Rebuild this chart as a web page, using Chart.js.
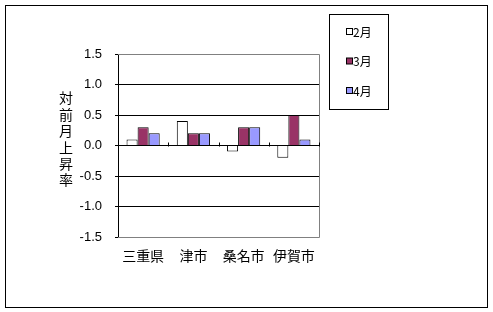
<!DOCTYPE html>
<html>
<head>
<meta charset="utf-8">
<script src="https://cdn.jsdelivr.net/npm/chart.js@4/dist/chart.umd.min.js"></script>
<style>
  html, body { margin: 0; padding: 0; background: #fff; }
</style>
</head>
<body>
<canvas id="rateChart" width="493" height="312"></canvas>
<script>
// data
const cities = ["三重県", "津市", "桑名市", "伊賀市"];
const feb = [0.1, 0.4, -0.1, -0.2];
const mar = [0.3, 0.2, 0.3, 0.5];
const apr = [0.2, 0.2, 0.3, 0.1];
const seriesNames = ["2月", "3月", "4月"];
const axisTitle = "対前月上昇率";
const yMin = -1.5, yMax = 1.5, yStep = 0.5;

const jpFont = "'Noto Sans CJK JP', 'DejaVu Sans', sans-serif";

// outer frame, plot border, category ticks, stacked axis title, legend box
const decorPlugin = {
    id: "decor",
    beforeDraw(chart) {
        const c = chart.ctx;
        c.save();
        c.fillStyle = "#fff";
        c.fillRect(0, 0, chart.width, chart.height);
        c.strokeStyle = "#000";
        c.lineWidth = 1;
        c.strokeRect(5.5, 5.5, 482, 302);
        c.restore();
    },
    afterDraw(chart) {
        const c = chart.ctx;
        const area = chart.chartArea;
        const ys = chart.scales.y;
        c.save();

        // plot border on top/right/bottom
        c.strokeStyle = "#808080";
        c.lineWidth = 1;
        c.beginPath();
        c.moveTo(area.left, Math.round(area.top) + 0.5);
        c.lineTo(Math.round(area.right) + 0.5, Math.round(area.top) + 0.5);
        c.lineTo(Math.round(area.right) + 0.5, Math.round(area.bottom) + 0.5);
        c.lineTo(area.left, Math.round(area.bottom) + 0.5);
        c.stroke();

        // category separators on the zero line
        const zeroY = Math.round(ys.getPixelForValue(0)) + 0.5;
        const w = (area.right - area.left) / cities.length;
        c.strokeStyle = "#000";
        c.beginPath();
        for (let i = 1; i <= cities.length; i++) {
            const x = Math.round(area.left + i * w) + 0.5;
            c.moveTo(x, zeroY);
            c.lineTo(x, zeroY - 4);
        }
        c.stroke();

        // vertical title, one char per line
        c.fillStyle = "#000";
        c.font = "14px " + jpFont;
        c.textAlign = "center";
        c.textBaseline = "middle";
        const chars = Array.from(axisTitle);
        chars.forEach((ch, i) => c.fillText(ch, 66, 98 + i * 16.4));

        // legend box
        c.strokeStyle = "#000";
        c.strokeRect(329.5, 14.5, 59, 95);
        c.font = "12px " + jpFont;
        c.textAlign = "left";
        chart.data.datasets.forEach((ds, i) => {
            const y = 32 + i * 29.5;
            c.fillStyle = ds.backgroundColor;
            c.fillRect(346.5, y - 3.5, 6, 6);
            c.strokeStyle = "#000";
            c.strokeRect(346.5, y - 3.5, 6, 6);
            c.fillStyle = "#000";
            c.fillText(ds.label, 353, y);
        });
        c.restore();
    }
};

new Chart(document.getElementById("rateChart"), {
    type: "bar",
    data: {
        labels: cities,
        datasets: [
            { label: seriesNames[0], data: feb, backgroundColor: "#ffffff", borderColor: "#000", borderWidth: 1 },
            { label: seriesNames[1], data: mar, backgroundColor: "#993366", borderColor: "#000", borderWidth: 1 },
            { label: seriesNames[2], data: apr, backgroundColor: "#9999ff", borderColor: "#000", borderWidth: 1 }
        ]
    },
    options: {
        responsive: false,
        animation: false,
        devicePixelRatio: 1,
        layout: { padding: { top: 54, right: 174, bottom: 0, left: 0 } },
        datasets: {
            bar: { categoryPercentage: 0.66, barPercentage: 1.0 }
        },
        plugins: {
            legend: { display: false },
            tooltip: { enabled: false }
        },
        scales: {
            x: {
                grid: { display: false, drawTicks: false },
                border: { display: false },
                ticks: {
                    color: "#000",
                    font: { family: jpFont, size: 14 },
                    padding: 10,
                    maxRotation: 0
                },
                afterFit(scale) { scale.height = 312 - 237; }
            },
            y: {
                min: yMin,
                max: yMax,
                grid: {
                    color: ctx => (ctx.tick && (ctx.tick.value === yMax || ctx.tick.value === yMin)) ? "rgba(0,0,0,0)" : "#000",
                    tickColor: "#000",
                    tickLength: 3,
                    lineWidth: 1
                },
                border: { color: "#000", width: 1 },
                ticks: {
                    stepSize: yStep,
                    color: "#000",
                    font: { family: "'Liberation Sans', sans-serif", size: 13 },
                    padding: 13,
                    callback: v => v.toFixed(1)
                },
                afterFit(scale) { scale.width = 118; }
            }
        }
    },
    plugins: [decorPlugin]
});
</script>
</body>
</html>
